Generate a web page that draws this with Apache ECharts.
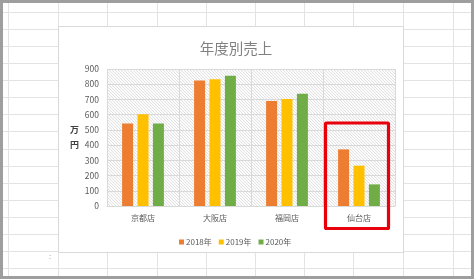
<!DOCTYPE html>
<html>
<head>
<meta charset="utf-8">
<script src="https://cdn.jsdelivr.net/npm/echarts@6/dist/echarts.min.js"></script>
<style>
html,body{margin:0;padding:0;background:#fff;}
#c{width:474px;height:279px;}
</style>
</head>
<body>
<div id="c"></div>
<script>
const categories = ['京都店', '大阪店', '福岡店', '仙台店'];
const seriesNames = ['2018年', '2019年', '2020年'];
const values2018 = [542, 825, 690, 372];
const values2019 = [602, 833, 703, 265];
const values2020 = [542, 855, 738, 142];
const yTicks = [0, 100, 200, 300, 400, 500, 600, 700, 800, 900];
const colors = ['#ED7D31', '#FFC000', '#70AD47'];

const FONT = '"Noto Sans CJK JP", "Noto Sans", sans-serif';

// hatch pattern for plot area
const pc = document.createElement('canvas');
pc.width = 3; pc.height = 3;
const pctx = pc.getContext('2d');
pctx.fillStyle = '#fbfbfb';
pctx.fillRect(0, 0, 3, 3);
pctx.fillStyle = '#e2e2e2';
pctx.fillRect(0, 0, 1, 1);
pctx.fillRect(1, 1, 1, 1);
pctx.fillRect(2, 2, 1, 1);

// Excel sheet background decoration
const bg = [];
bg.push({type: 'rect', z: -100, silent: true, shape: {x: 0, y: 0, width: 474, height: 279}, style: {fill: '#ffffff'}});
for (let i = 0; i < 16; i++) {
  const y = Math.round(11.7 + i * 17.1) + 0.5;
  bg.push({type: 'line', z: -99, silent: true, shape: {x1: 0, y1: y, x2: 474, y2: y}, style: {stroke: '#e3e3e3', lineWidth: 1}});
}
[8, 58, 107, 157, 206, 255, 304, 353, 403, 453].forEach(function (x) {
  bg.push({type: 'line', z: -99, silent: true, shape: {x1: x + 0.5, y1: 0, x2: x + 0.5, y2: 279}, style: {stroke: '#e3e3e3', lineWidth: 1}});
});
// chart area box
bg.push({type: 'rect', z: -98, silent: true, shape: {x: 58.5, y: 26.5, width: 345, height: 226}, style: {fill: '#ffffff', stroke: '#d9d9d9', lineWidth: 1}});
// small mark
bg.push({type: 'text', z: -97, silent: true, x: 50, y: 256, style: {text: ':', fill: '#999', font: '8px ' + FONT, align: 'center', verticalAlign: 'middle'}});
// outer border
bg.push({type: 'rect', z: 100, silent: true, shape: {x: 1.5, y: 1.5, width: 471, height: 276}, style: {fill: 'none', stroke: '#9e9e9e', lineWidth: 3}});
// red highlight
bg.push({type: 'rect', z: 50, silent: true, shape: {x: 325.5, y: 123, width: 63, height: 105.5, r: 1}, style: {fill: 'none', stroke: '#e8000b', lineWidth: 3.2}});

const chart = echarts.init(document.getElementById('c'), null, {renderer: 'canvas'});
chart.setOption({
  animation: false,
  backgroundColor: 'transparent',
  textStyle: {fontFamily: FONT},
  title: {
    text: '年度別売上',
    left: 231, top: 36, textAlign: 'center',
    textStyle: {fontSize: 14.5, fontWeight: 'normal', color: '#808080', fontFamily: FONT}
  },
  legend: {
    data: seriesNames,
    left: 174, top: 233,
    icon: 'rect', itemWidth: 5, itemHeight: 5, itemGap: 7,
    textStyle: {fontSize: 8, color: '#595959', fontFamily: FONT, padding: [0, 0, 0, -3]}
  },
  grid: {
    left: 107, right: 79, top: 69, bottom: 73,
    show: true,
    borderWidth: 0,
    backgroundColor: {image: pc, repeat: 'repeat'}
  },
  xAxis: {
    type: 'category',
    data: categories,
    axisLine: {show: true, lineStyle: {color: '#d9d9d9'}},
    axisTick: {show: false},
    splitLine: {show: true, lineStyle: {color: '#d9d9d9', width: 1}},
    axisLabel: {fontSize: 8, color: '#595959', margin: 8, fontFamily: FONT}
  },
  yAxis: {
    type: 'value',
    min: yTicks[0], max: yTicks[yTicks.length - 1], interval: 100,
    name: '万\n円',
    nameLocation: 'middle',
    nameRotate: 0,
    nameGap: 27,
    nameTextStyle: {fontSize: 9, fontWeight: 'bold', color: '#404040', lineHeight: 15, fontFamily: FONT},
    axisLine: {show: false},
    axisTick: {show: false},
    splitLine: {show: true, lineStyle: {color: '#d9d9d9', width: 1}},
    axisLabel: {fontSize: 8.5, color: '#595959', margin: 8, fontFamily: FONT}
  },
  series: [
    {name: seriesNames[0], type: 'bar', data: values2018, barWidth: 11, barGap: '40%', itemStyle: {color: colors[0]}},
    {name: seriesNames[1], type: 'bar', data: values2019, barWidth: 11, barGap: '40%', itemStyle: {color: colors[1]}},
    {name: seriesNames[2], type: 'bar', data: values2020, barWidth: 11, barGap: '40%', itemStyle: {color: colors[2]}}
  ],
  graphic: {elements: bg}
});
</script>
</body>
</html>
